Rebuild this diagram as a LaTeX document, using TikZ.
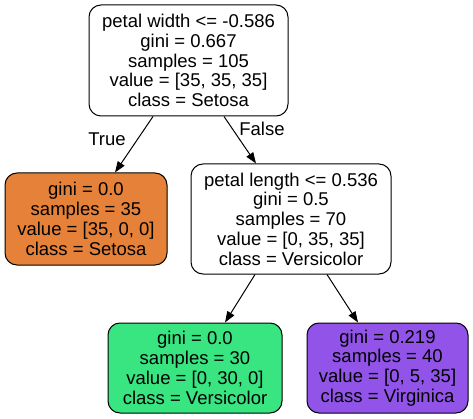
\documentclass[tikz,border=0pt]{standalone}
\usepackage{fontspec}
\setmainfont{Liberation Sans}
\usetikzlibrary{arrows.meta}
\definecolor{setosa}{HTML}{E58139}
\definecolor{versi}{HTML}{39E581}
\definecolor{virg}{HTML}{9254E8}
\begin{document}
\begin{tikzpicture}[x=1pt,y=-1pt,
  tnode/.style={draw=black,line width=1pt,rounded corners=12pt,align=center,inner sep=0pt,
    font=\fontsize{18.5}{19.8}\selectfont},
  arr/.style={line width=1pt,-{Triangle[length=11pt,width=8pt]}},
  elabel/.style={font=\fontsize{18.5}{19.8}\selectfont,inner sep=0pt}]
\useasboundingbox (0,0) rectangle (473,419);
\node[tnode,fill=white,minimum width=199pt,minimum height=111pt] (root) at (188.5,60.5)
  {petal width <= -0.586\\gini = 0.667\\samples = 105\\value = [35, 35, 35]\\class = Setosa};
\node[tnode,fill=setosa,minimum width=162pt,minimum height=92pt] (left) at (86,219)
  {gini = 0.0\\samples = 35\\value = [35, 0, 0]\\class = Setosa};
\node[tnode,fill=white,minimum width=200pt,minimum height=110pt] (right) at (291,219)
  {petal length <= 0.536\\gini = 0.5\\samples = 70\\value = [0, 35, 35]\\class = Versicolor};
\node[tnode,fill=versi,minimum width=174pt,minimum height=90pt] (green) at (195,368)
  {gini = 0.0\\samples = 30\\value = [0, 30, 0]\\class = Versicolor};
\node[tnode,fill=virg,minimum width=161pt,minimum height=90pt] (purple) at (387.5,368)
  {gini = 0.219\\samples = 40\\value = [0, 5, 35]\\class = Virginica};
\draw[arr] ([xshift=-35.5pt]root.south) -- ([xshift=29pt]left.north);
\draw[arr] ([xshift=35.5pt]root.south) -- ([xshift=-35pt]right.north);
\draw[arr] ([xshift=-36pt]right.south) -- ([xshift=30pt]green.north);
\draw[arr] ([xshift=36pt]right.south) -- ([xshift=-29.5pt]purple.north);
\node[elabel] (ltrue) at (107,139) {True};
\node[elabel] (lfalse) at (262,129) {False};
\end{tikzpicture}
\end{document}
